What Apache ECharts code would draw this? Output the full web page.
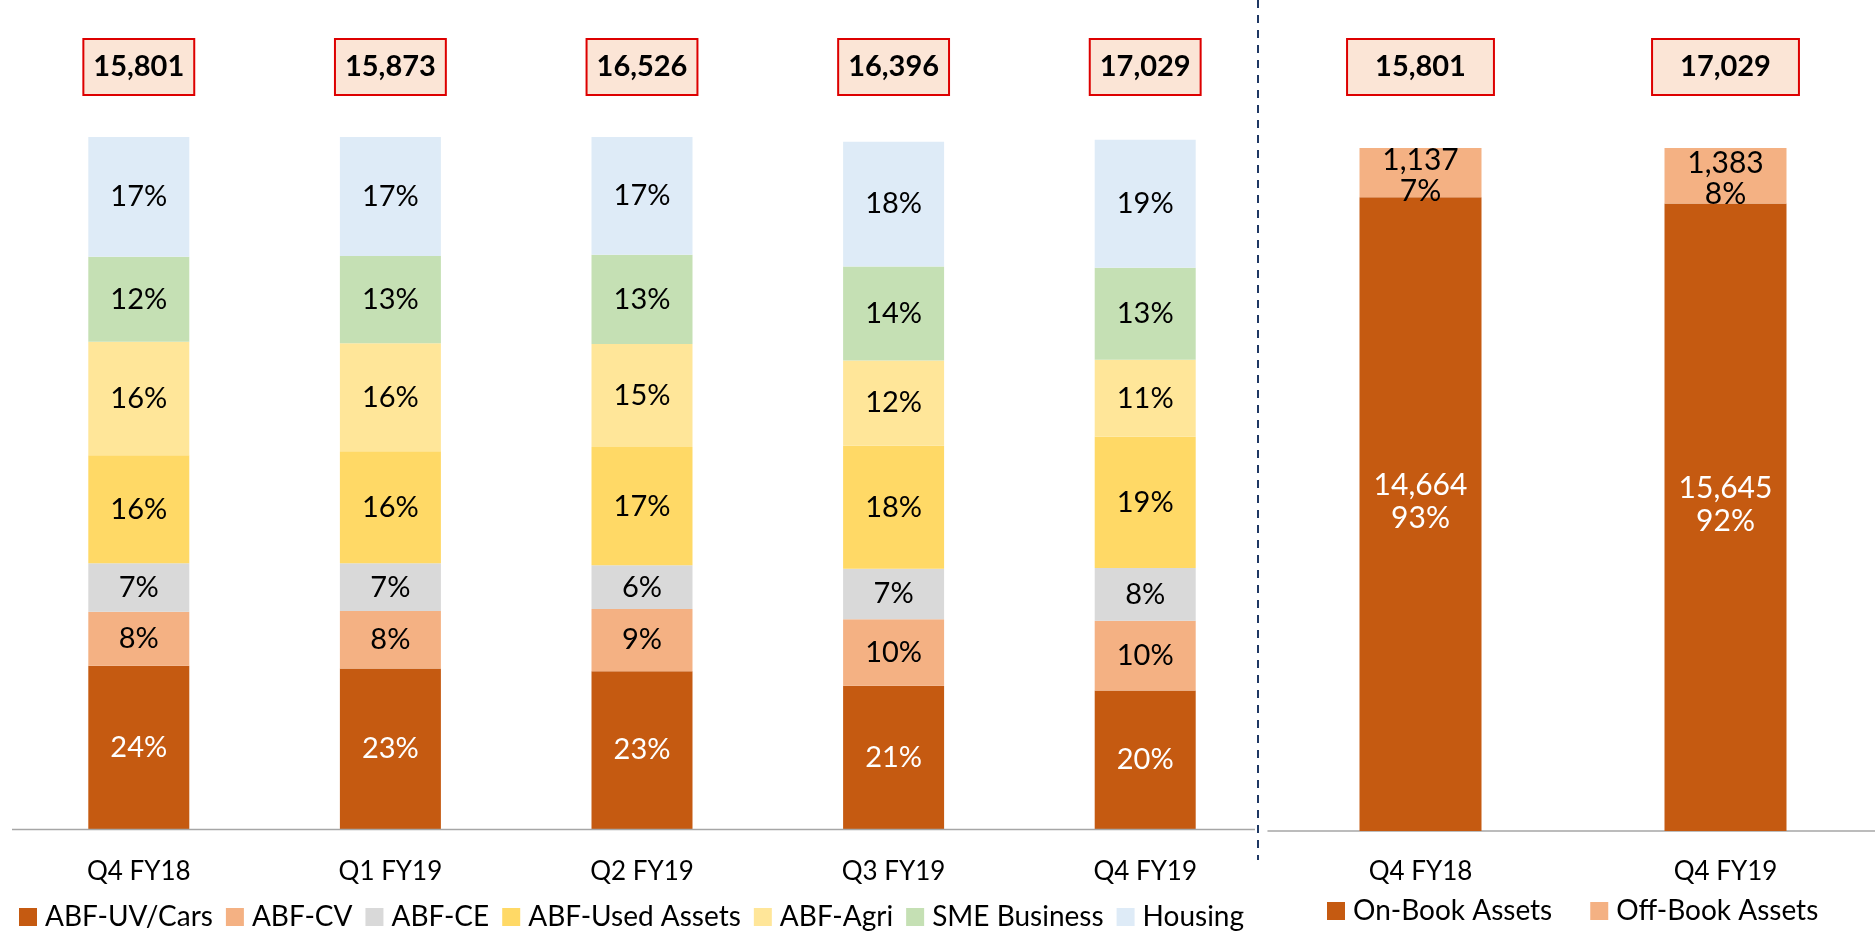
<!DOCTYPE html>
<html><head><meta charset="utf-8">
<script src="https://cdn.jsdelivr.net/npm/echarts@6/dist/echarts.min.js"></script>
<style>html,body{margin:0;padding:0;background:#fff}#c{width:1875px;height:931px}</style>
</head><body><div id="c"></div>
<script>
// ---- data ----
const quarters = ['Q4 FY18', 'Q1 FY19', 'Q2 FY19', 'Q3 FY19', 'Q4 FY19'];
const quarterTotals = [15801, 15873, 16526, 16396, 17029];
const uvCars = [23.6, 23.2, 22.8, 20.7, 20.0];
const cv = [7.8, 8.3, 9.0, 9.6, 10.1];
const ce = [7.0, 6.9, 6.3, 7.3, 7.6];
const usedAssets = [15.6, 16.2, 17.1, 17.8, 19.0];
const agri = [16.4, 15.6, 14.9, 12.3, 11.1];
const sme = [12.3, 12.6, 12.9, 13.6, 13.3];
const housing = [17.3, 17.2, 17.0, 18.0, 18.5];

const bookPeriods = ['Q4 FY18', 'Q4 FY19'];
const bookTotals = [15801, 17029];
const onBook = [14664, 15645];
const offBook = [1137, 1383];

const segNames = ['ABF-UV/Cars', 'ABF-CV', 'ABF-CE', 'ABF-Used Assets', 'ABF-Agri', 'SME Business', 'Housing'];
const segData = [uvCars, cv, ce, usedAssets, agri, sme, housing];
const segColors = ['#C55A11', '#F4B183', '#D9D9D9', '#FFD966', '#FFE699', '#C5E0B4', '#DEEBF7'];
const bookNames = ['On-Book Assets', 'Off-Book Assets'];

// ---- build ----
const FONT = 'Lato';
const fmt = n => n.toLocaleString('en-US');
const onShare = onBook.map((v, i) => v / (v + offBook[i]) * 100);
const offShare = offBook.map((v, i) => v / (onBook[i] + v) * 100);

const boxLabel = (padH, margin) => ({
  fontFamily: FONT, fontSize: 29, fontWeight: 'bold', color: '#000', lineHeight: 30,
  backgroundColor: '#FBE5D6', borderColor: '#DD0000', borderWidth: 2,
  padding: [12, padH], margin: margin, interval: 0
});

const series = segNames.map((name, k) => ({
  name, type: 'bar', stack: 'mix', xAxisIndex: 0, yAxisIndex: 0, barWidth: 101,
  itemStyle: { color: segColors[k] },
  data: segData[k],
  label: {
    show: true, position: 'inside', fontFamily: FONT, fontSize: 29,
    color: k === 0 ? '#FFFFFF' : '#000000',
    formatter: p => Math.round(p.value) + '%'
  }
}));

series.push({
  name: bookNames[0], type: 'bar', stack: 'book', xAxisIndex: 2, yAxisIndex: 1, barWidth: 122,
  itemStyle: { color: '#C55A11' }, data: onShare,
  label: {
    show: true, position: 'inside', offset: [0, -12], fontFamily: FONT, fontSize: 30,
    color: '#FFFFFF', lineHeight: 33,
    formatter: p => fmt(onBook[p.dataIndex]) + '\n' + Math.round(p.value) + '%'
  }
});
series.push({
  name: bookNames[1], type: 'bar', stack: 'book', xAxisIndex: 2, yAxisIndex: 1, barWidth: 122,
  itemStyle: { color: '#F4B183' }, data: offShare,
  label: {
    show: true, position: 'inside', offset: [0, 3], fontFamily: FONT, fontSize: 30,
    color: '#000000', lineHeight: 31,
    formatter: p => fmt(offBook[p.dataIndex]) + '\n' + Math.round(p.value) + '%'
  }
});

const catLabel = (margin) => ({
  fontFamily: FONT, fontSize: 26, color: '#000', lineHeight: 30, margin: margin, interval: 0
});

const option = {
  animation: false,
  backgroundColor: '#FFFFFF',
  grid: [
    { left: 13, width: 1258, top: 137, bottom: 102, outerBoundsMode: 'none', containLabel: false },
    { left: 1268, width: 610, top: 148, bottom: 100, outerBoundsMode: 'none', containLabel: false }
  ],
  xAxis: [
    { type: 'category', gridIndex: 0, data: quarters, position: 'bottom',
      axisLine: { show: false }, axisTick: { show: false },
      axisLabel: catLabel(28) },
    { type: 'category', gridIndex: 0, data: quarterTotals.map(fmt), position: 'top',
      axisLine: { show: false }, axisTick: { show: false }, axisLabel: boxLabel(9, 43) },
    { type: 'category', gridIndex: 1, data: bookPeriods, position: 'bottom',
      axisLine: { lineStyle: { color: '#A6A6A6', width: 1.5 } }, axisTick: { show: false },
      axisLabel: catLabel(26) },
    { type: 'category', gridIndex: 1, data: bookTotals.map(fmt), position: 'top',
      axisLine: { show: false }, axisTick: { show: false }, axisLabel: boxLabel(27, 54) }
  ],
  yAxis: [
    { type: 'value', gridIndex: 0, min: 0, max: 100, show: false, splitLine: { show: false } },
    { type: 'value', gridIndex: 1, min: 0, max: 100, show: false, splitLine: { show: false } }
  ],
  legend: [
    { data: segNames, left: 14, top: 898, icon: 'rect', itemWidth: 18, itemHeight: 18, itemGap: 13,
      selectedMode: false,
      textStyle: { fontFamily: FONT, fontSize: 28, color: '#000', lineHeight: 28, padding: [0, 0, 0, 3] } },
    { data: bookNames, left: 1322, top: 892, icon: 'rect', itemWidth: 18, itemHeight: 18, itemGap: 38,
      selectedMode: false,
      textStyle: { fontFamily: FONT, fontSize: 28, color: '#000', lineHeight: 28, padding: [0, 0, 0, 3] } }
  ],
  graphic: [
    { type: 'line', shape: { x1: 12, y1: 829.5, x2: 1255, y2: 829.5 },
      style: { stroke: '#A6A6A6', lineWidth: 1.5 }, z: 5 },
    { type: 'line', shape: { x1: 1258, y1: 0, x2: 1258, y2: 860 },
      style: { stroke: '#1F3864', lineWidth: 2, lineDash: [8, 7] }, z: 10 }
  ],
  series
};

const chart = echarts.init(document.getElementById('c'), null, { renderer: 'canvas' });
chart.setOption(option);
</script>
</body></html>
